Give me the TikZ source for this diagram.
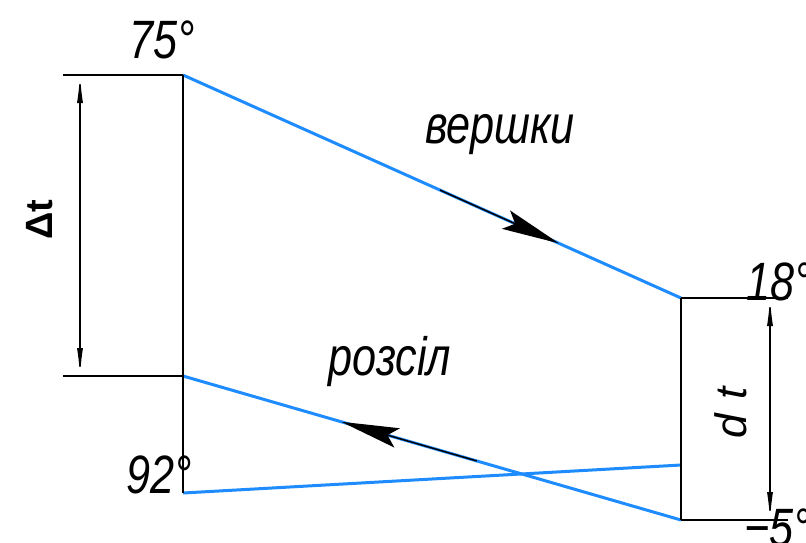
\documentclass[tikz,border=0pt]{standalone}
\usepackage{fontspec}
\setmainfont{Liberation Sans}
\usetikzlibrary{arrows.meta,calc}
\definecolor{flowblue}{RGB}{30,140,255}
\begin{document}
\begin{tikzpicture}[x=1pt,y=-1pt,
  flow/.style={draw=flowblue,line width=3pt},
  edge/.style={draw=black,line width=1.6pt},
  dimline/.style={draw=black,line width=1.3pt,{Latex[length=28pt,width=6pt]}-{Latex[length=28pt,width=6pt]}},
  dirarrow/.style={draw=black,line width=1.5pt,-{Stealth[length=58pt,width=20pt,inset=10pt]}},
  lbl/.style={font=\itshape\fontsize{54}{54}\selectfont,inner sep=0pt,xscale=0.8}]
\useasboundingbox (0,0) rectangle (806,542);
% points
\coordinate (A) at (183,75);
\coordinate (B) at (183,376);
\coordinate (C) at (183,493);
\coordinate (D) at (681,298);
\coordinate (E) at (681,520);
\coordinate (F) at (681,465);
\coordinate (LT) at (63,75);
\coordinate (LB) at (63,376);
\coordinate (RT) at (788,298);
\coordinate (RB) at (788,520);
\coordinate (dL1) at (80,75);
\coordinate (dL2) at (80,376);
\coordinate (dR1) at (770,298);
\coordinate (dR2) at (770,520);
% blue flow lines
\draw[flow] (A) -- (D);
\draw[flow] (B) -- (E);
\draw[flow] (C) -- (F);
% black frame lines
\draw[edge] (A) -- (C);
\draw[edge] (LT) -- (A);
\draw[edge] (LB) -- (B);
\draw[edge] (D) -- (E);
\draw[edge] (D) -- (RT);
\draw[edge] (E) -- (RB);
% dimension lines
\draw[dimline] (dL1) -- (dL2);
\draw[dimline] (dR1) -- (dR2);
% direction arrows
\coordinate (a1s) at ($(A)!0.516!(D)$);
\coordinate (a1e) at ($(A)!0.755!(D)$);
\coordinate (a2s) at ($(B)!0.590!(E)$);
\coordinate (a2e) at ($(B)!0.318!(E)$);
\draw[dirarrow] (a1s) -- (a1e);
\draw[dirarrow] (a2s) -- (a2e);
% labels
\node[lbl,anchor=base] (t75) at (162,58) {75°};
\node[lbl,anchor=base west] (t18) at (746,300) {18°};
\node[lbl,anchor=base west] (t92) at (126,493) {92°};
\node[lbl,anchor=base west] (t5) at (744,546) {−5°};
\node[lbl,anchor=base] (tv) at (500,143) {вершки};
\node[lbl,anchor=base] (tr) at (390,375) {розсіл};
\node[font=\itshape\fontsize{44}{44}\selectfont,inner sep=0pt,rotate=90] (tdt) at (731,413) {d\,\,t};
\node[font=\bfseries\fontsize{38}{38}\selectfont,inner sep=0pt,rotate=90] (tDt) at (40,220) {Δt};
\end{tikzpicture}
\end{document}
